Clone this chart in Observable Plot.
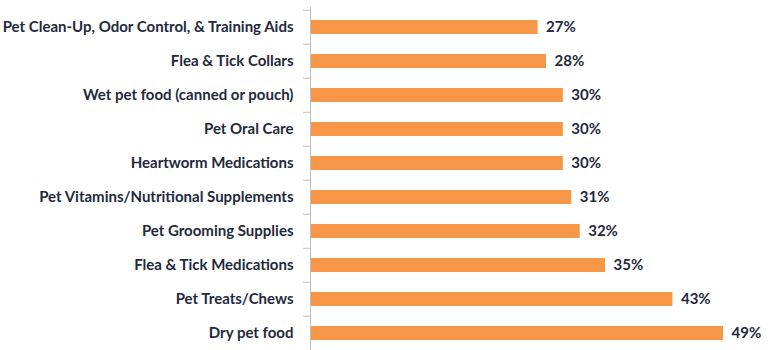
<!DOCTYPE html>
<html><head><meta charset="utf-8">
<script src="https://cdn.jsdelivr.net/npm/d3@7"></script>
<script src="https://cdn.jsdelivr.net/npm/@observablehq/plot@0.6"></script>
<style>body{margin:0;background:#fff;} svg{display:block;}</style>
</head><body><div id="chart"></div>
<script>
const categories = [
  "Pet Clean-Up, Odor Control, & Training Aids",
  "Flea & Tick Collars",
  "Wet pet food (canned or pouch)",
  "Pet Oral Care",
  "Heartworm Medications",
  "Pet Vitamins/Nutritional Supplements",
  "Pet Grooming Supplies",
  "Flea & Tick Medications",
  "Pet Treats/Chews",
  "Dry pet food"
];
const values = [27, 28, 30, 30, 30, 31, 32, 35, 43, 49];
const data = categories.map((c, i) => ({category: c, value: values[i]}));

const textColor = "#1f2a3c";
const font = "Lato, 'Open Sans', sans-serif";

const chart = Plot.plot({
  width: 771,
  height: 350,
  marginLeft: 310,
  marginRight: 48,
  marginTop: 7,
  marginBottom: 0,
  style: {fontFamily: font, background: "#fff"},
  x: {domain: [0, 49], axis: null},
  y: {domain: categories, range: [7.75, 352.75], paddingInner: 0.6, paddingOuter: 0.3, axis: null},
  marks: [
    Plot.barX(data, {x: "value", y: "category", fill: "#f79646"}),
    Plot.ruleX([0], {stroke: "#bfbfbf", strokeWidth: 1}),
    Plot.axisY({tickSize: 7, text: null, label: null, dy: -17.25, stroke: "#bfbfbf", strokeOpacity: 1}),
    Plot.axisY({tickSize: 0, tickPadding: 17, fontSize: 15, fontWeight: "bold", fill: textColor, label: null}),
    Plot.text(data, {x: "value", y: "category", text: d => d.value + "%", textAnchor: "start", dx: 8, fontSize: 15, fontWeight: "bold", fill: textColor})
  ]
});
document.getElementById("chart").appendChild(chart);
</script>
</body></html>
